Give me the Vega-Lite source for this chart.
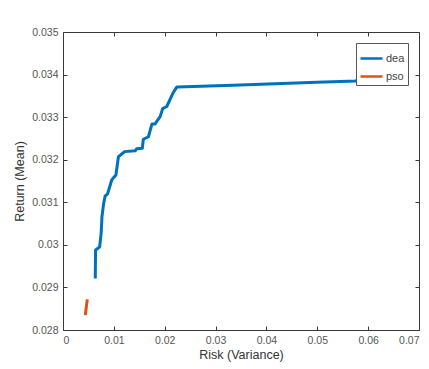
{
  "$schema": "https://vega.github.io/schema/vega-lite/v6.json",
  "autosize": "none",
  "width": 356,
  "height": 298,
  "padding": {"left": 63, "top": 32, "right": 10, "bottom": 39},
  "background": "white",
  "config": {
    "font": "Liberation Sans",
    "view": {"stroke": "#3a3a3a", "strokeWidth": 1},
    "axis": {"grid": false, "domain": false, "tickColor": "#3a3a3a", "tickSize": -4, "labelColor": "#555555", "labelFontSize": 10.5, "titleColor": "#333333", "titleFontSize": 12.5, "titleFontWeight": "normal", "labelPadding": 9}
  },
  "data": {"values": [
    {"series": "dea", "o": 1, "x": 0.00635, "y": 0.02921},
    {"series": "dea", "o": 2, "x": 0.0064, "y": 0.02988},
    {"series": "dea", "o": 3, "x": 0.0072, "y": 0.02995},
    {"series": "dea", "o": 4, "x": 0.0075, "y": 0.03027},
    {"series": "dea", "o": 5, "x": 0.00766, "y": 0.03066},
    {"series": "dea", "o": 6, "x": 0.0080, "y": 0.03098},
    {"series": "dea", "o": 7, "x": 0.0083, "y": 0.03115},
    {"series": "dea", "o": 8, "x": 0.00877, "y": 0.0312},
    {"series": "dea", "o": 9, "x": 0.0096, "y": 0.03153},
    {"series": "dea", "o": 10, "x": 0.0104, "y": 0.03164},
    {"series": "dea", "o": 11, "x": 0.0109, "y": 0.03207},
    {"series": "dea", "o": 12, "x": 0.0121, "y": 0.03219},
    {"series": "dea", "o": 13, "x": 0.0142, "y": 0.03221},
    {"series": "dea", "o": 14, "x": 0.0145, "y": 0.03226},
    {"series": "dea", "o": 15, "x": 0.0156, "y": 0.03227},
    {"series": "dea", "o": 16, "x": 0.0158, "y": 0.03248},
    {"series": "dea", "o": 17, "x": 0.0168, "y": 0.03254},
    {"series": "dea", "o": 18, "x": 0.0175, "y": 0.03284},
    {"series": "dea", "o": 19, "x": 0.0181, "y": 0.03284},
    {"series": "dea", "o": 20, "x": 0.0191, "y": 0.03301},
    {"series": "dea", "o": 21, "x": 0.0196, "y": 0.0332},
    {"series": "dea", "o": 22, "x": 0.0204, "y": 0.03325},
    {"series": "dea", "o": 23, "x": 0.0216, "y": 0.03356},
    {"series": "dea", "o": 24, "x": 0.0224, "y": 0.03371},
    {"series": "dea", "o": 25, "x": 0.0335, "y": 0.03375},
    {"series": "dea", "o": 26, "x": 0.0499, "y": 0.03382},
    {"series": "dea", "o": 27, "x": 0.0576, "y": 0.03385},
    {"series": "dea", "o": 28, "x": 0.0591, "y": 0.034},
    {"series": "dea", "o": 29, "x": 0.0600, "y": 0.03412},
    {"series": "pso", "o": 1, "x": 0.00438, "y": 0.02835},
    {"series": "pso", "o": 2, "x": 0.00477, "y": 0.02872}
  ]},
  "layer": [
    {
      "mark": {"type": "line", "strokeWidth": 3, "strokeJoin": "round", "clip": true},
      "encoding": {
        "x": {"field": "x", "type": "quantitative", "scale": {"domain": [0, 0.07], "nice": false}, "axis": {"orient": "bottom", "values": [0, 0.01, 0.02, 0.03, 0.04, 0.05, 0.06, 0.07], "format": "~g", "title": "Risk (Variance)", "titlePadding": 3}},
        "y": {"field": "y", "type": "quantitative", "scale": {"domain": [0.028, 0.035], "nice": false, "zero": false}, "axis": {"orient": "left", "values": [0.028, 0.029, 0.03, 0.031, 0.032, 0.033, 0.034, 0.035], "format": "~g", "title": "Return (Mean)", "titlePadding": 5}},
        "order": {"field": "o", "type": "quantitative"},
        "color": {"field": "series", "type": "nominal", "scale": {"domain": ["dea", "pso"], "range": ["#0072BD", "#D95319"]},
          "legend": {"title": null, "orient": "top-right", "offset": 11, "symbolType": "stroke", "symbolSize": 484, "symbolStrokeWidth": 2.5, "strokeColor": "#555555", "fillColor": "white", "padding": 3, "labelFontSize": 11, "labelColor": "#444444", "rowPadding": -5, "labelOffset": 2}}
      }
    },
    {
      "mark": {"type": "point", "opacity": 0},
      "encoding": {
        "x": {"field": "x", "type": "quantitative", "axis": {"orient": "top", "values": [0, 0.01, 0.02, 0.03, 0.04, 0.05, 0.06, 0.07], "labels": false, "title": null}},
        "y": {"field": "y", "type": "quantitative", "axis": {"orient": "right", "values": [0.028, 0.029, 0.03, 0.031, 0.032, 0.033, 0.034, 0.035], "labels": false, "title": null}}
      }
    }
  ],
  "resolve": {"axis": {"x": "independent", "y": "independent"}}
}
